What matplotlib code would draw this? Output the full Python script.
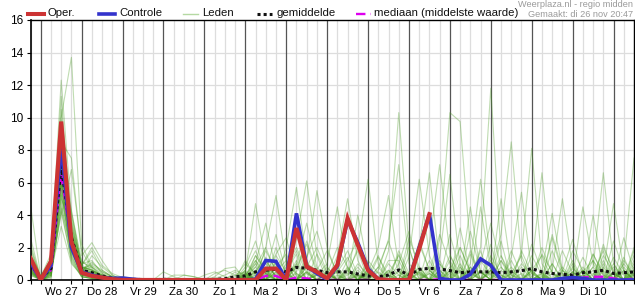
import numpy as np
import matplotlib
matplotlib.use("Agg")
import matplotlib.pyplot as plt
from matplotlib.lines import Line2D

plt.rcParams['font.family'] = ['Liberation Sans', 'DejaVu Sans']

# ---------------- data (6-hourly steps, starting di 26 nov 18:00) ----------------
day_labels = ["Wo 27", "Do 28", "Vr 29", "Za 30", "Zo 1", "Ma 2", "Di 3",
              "Wo 4", "Do 5", "Vr 6", "Za 7", "Zo 8", "Ma 9", "Di 10"]

oper = [1.35, 0.0, 1.15, 9.75, 2.35, 0.45, 0.25, 0.15, 0.05, 0, 0, 0, 0, 0, 0, 0, 0, 0, 0, 0, 0,
        0, 0, 0.7, 0.7, 0, 3.2, 0.82, 0.5, 0.1, 0.92, 3.8, 2.15, 0.6, 0.05, 0, 0, 0, 1.9, 4.05]

controle = [1.1, 0, 0.9, 8.3, 2.0, 0.5, 0.3, 0.15, 0.1, 0.12, 0.05, 0, 0, 0, 0, 0, 0, 0, 0, 0, 0,
            0, 0.05, 1.2, 1.15, 0, 4.1, 0.85, 0.4, 0.05, 0.85, 3.7, 2.3, 0.7, 0.05, 0,
            0, 0, 2.0, 4.05, 0.1, 0, 0, 0.35, 1.3, 0.9, 0, 0, 0, 0, 0,
            0, 0.1, 0.15, 0.1, 0, 0, 0, 0, 0]

gemiddelde = [1.0, 0.1, 0.7, 7.0, 2.6, 0.6, 0.45, 0.25, 0.12, 0.06, 0.04, 0.03, 0.02, 0.04, 0.03,
              0.03, 0.02, 0.03, 0.04, 0.08, 0.2,
              0.25, 0.5, 0.6, 0.65, 0.5, 0.78, 0.72, 0.6, 0.45, 0.5,
              0.5, 0.37, 0.25, 0.2, 0.3, 0.62, 0.3, 0.65, 0.72, 0.68,
              0.58, 0.45, 0.5, 0.5, 0.5, 0.45, 0.5, 0.57, 0.7, 0.5,
              0.4, 0.35, 0.3, 0.45, 0.5, 0.6, 0.4, 0.45, 0.5]

mediaan = [0.9, 0.05, 0.6, 6.6, 2.2, 0.45, 0.3, 0.15, 0.05, 0, 0, 0, 0, 0, 0, 0, 0, 0, 0, 0, 0,
           0, 0, 0.25, 0.25, 0, 0.15, 0.1, 0, 0, 0,
           0, 0, 0, 0, 0, 0, 0, 0, 0, 0.05,
           0, 0, 0, 0, 0, 0, 0, 0, 0, 0,
           0, 0, 0, 0.15, 0.2, 0.2, 0.1, 0, 0.1]

# ensemble members ("Leden"): first 21 steps (di 18:00 .. zo 18:00)
leden_early = [
    [4.6, 0.2, 1.3, 12.3, 4.2, 1.2, 0.6, 0.3, 0.1, 0, 0, 0, 0, 0, 0, 0, 0, 0, 0, 0.1, 0.3],
    [2.6, 0.1, 0.8, 11.3, 3.0, 0.8, 0.6, 0.3, 0.1, 0, 0, 0, 0, 0, 0, 0, 0, 0, 0, 0, 0],
    [1.0, 0.0, 0.5, 10.0, 13.7, 2.2, 0.8, 0.2, 0.0, 0, 0, 0, 0, 0, 0, 0, 0, 0, 0, 0, 0],
    [0.8, 0.0, 0.6, 8.5, 7.5, 1.5, 2.3, 1.2, 0.3, 0, 0, 0, 0, 0.5, 0.2, 0, 0, 0, 0, 0, 0],
    [1.2, 0.1, 1.0, 9.0, 2.5, 0.5, 0.3, 0.1, 0.0, 0.1, 0.1, 0.05, 0, 0, 0, 0, 0, 0, 0, 0, 0],
    [0.5, 0.0, 0.3, 6.0, 2.0, 0.4, 0.2, 0.0, 0.0, 0, 0, 0, 0, 0, 0, 0, 0, 0, 0, 0, 0],
    [1.5, 0.2, 1.6, 7.5, 3.2, 0.9, 1.8, 0.6, 0.2, 0, 0, 0, 0, 0, 0, 0, 0, 0.3, 0.5, 0.2, 0],
    [0.3, 0.0, 0.2, 4.5, 1.8, 0.3, 0.1, 0.0, 0.0, 0, 0, 0, 0, 0, 0, 0, 0, 0, 0, 0, 0],
    [0.9, 0.0, 0.7, 7.0, 2.8, 0.6, 0.5, 0.2, 0.1, 0, 0, 0, 0, 0, 0, 0, 0, 0, 0, 0, 0],
    [1.1, 0.1, 0.9, 6.5, 4.0, 1.0, 1.2, 0.4, 0.1, 0, 0, 0, 0, 0, 0, 0, 0, 0, 0.2, 0.7, 0.8],
    [0.6, 0.0, 0.4, 5.5, 1.5, 0.2, 0.1, 0.0, 0.0, 0, 0, 0, 0, 0, 0, 0, 0, 0, 0, 0, 0],
    [0.7, 0.0, 0.5, 3.3, 1.0, 0.3, 0.2, 0.1, 0.0, 0, 0, 0, 0, 0, 0, 0, 0, 0, 0, 0, 0],
    [2.0, 0.1, 1.2, 8.0, 2.2, 0.7, 0.9, 0.5, 0.2, 0.2, 0.1, 0, 0, 0, 0, 0, 0, 0, 0, 0, 0],
    [0.4, 0.0, 0.3, 5.0, 3.5, 0.6, 0.4, 0.1, 0.0, 0, 0, 0, 0, 0, 0, 0, 0, 0, 0, 0, 0],
    [1.3, 0.0, 0.8, 9.5, 2.6, 0.5, 0.3, 0.1, 0.0, 0, 0, 0, 0, 0, 0, 0, 0, 0, 0, 0, 0],
    [0.8, 0.0, 0.6, 4.0, 6.8, 1.8, 0.7, 0.2, 0.0, 0, 0, 0, 0, 0, 0, 0.3, 0.2, 0, 0, 0, 0],
    [1.0, 0.1, 0.5, 7.8, 2.0, 0.4, 1.5, 0.8, 0.3, 0, 0, 0, 0, 0, 0, 0, 0, 0, 0, 0, 0],
    [0.5, 0.0, 0.2, 6.2, 1.2, 0.2, 0.1, 0.0, 0.0, 0, 0, 0, 0, 0, 0, 0, 0, 0, 0, 0, 0],
    [1.6, 0.2, 1.1, 5.8, 2.4, 0.8, 0.6, 0.2, 0.1, 0, 0, 0, 0, 0, 0, 0, 0, 0, 0.1, 0.3, 0.6],
    [0.9, 0.0, 0.9, 8.8, 3.0, 0.6, 0.4, 0.1, 0.0, 0, 0, 0, 0, 0, 0, 0, 0, 0, 0, 0, 0],
    [0.3, 0.0, 0.1, 4.8, 1.4, 0.3, 0.2, 0.0, 0.0, 0, 0, 0, 0, 0, 0, 0, 0, 0, 0, 0, 0],
    [1.2, 0.1, 0.7, 6.8, 2.7, 0.9, 2.0, 0.9, 0.4, 0.15, 0.1, 0, 0, 0, 0, 0, 0, 0, 0, 0, 0],
    [0.6, 0.0, 0.4, 7.2, 4.3, 0.7, 0.3, 0.1, 0.0, 0, 0, 0, 0, 0, 0, 0, 0, 0, 0, 0, 0],
    [1.4, 0.0, 1.4, 9.8, 2.3, 0.5, 0.4, 0.2, 0.0, 0, 0, 0, 0, 0, 0, 0, 0, 0, 0, 0, 0],
    [0.7, 0.0, 0.3, 5.2, 1.7, 0.4, 0.3, 0.1, 0.0, 0, 0, 0, 0, 0, 0, 0, 0, 0, 0, 0, 0],
    [1.0, 0.1, 0.6, 6.0, 3.3, 1.1, 0.8, 0.3, 0.1, 0, 0, 0, 0, 0, 0, 0, 0, 0, 0.4, 0.6, 0.3],
    [0.4, 0.0, 0.5, 7.6, 2.1, 0.3, 0.2, 0.0, 0.0, 0, 0, 0, 0, 0, 0, 0, 0, 0, 0, 0, 0],
    [2.2, 0.1, 1.0, 8.2, 2.9, 0.6, 1.0, 0.6, 0.2, 0, 0, 0, 0, 0, 0.3, 0.3, 0.2, 0, 0, 0, 0.5],
    [0.8, 0.0, 0.6, 4.2, 1.3, 0.2, 0.1, 0.0, 0.0, 0, 0, 0, 0, 0, 0, 0, 0, 0, 0, 0, 0],
    [1.1, 0.0, 0.8, 6.6, 2.5, 0.5, 0.5, 0.2, 0.1, 0, 0, 0, 0, 0, 0, 0, 0, 0, 0, 0, 0],
    [0.6, 0.0, 0.4, 10.5, 3.8, 0.8, 0.6, 0.3, 0.1, 0, 0, 0, 0, 0, 0, 0, 0, 0, 0, 0, 0],
    [0.9, 0.1, 0.7, 5.6, 1.9, 0.4, 0.3, 0.1, 0.0, 0, 0, 0, 0, 0, 0, 0, 0, 0, 0, 0, 0],
    [0.7, 0.0, 0.5, 6.4, 2.2, 0.5, 0.4, 0.1, 0.0, 0, 0, 0, 0, 0, 0, 0, 0, 0, 0, 0, 0],
    [1.3, 0.1, 0.9, 8.6, 3.1, 0.7, 0.5, 0.2, 0.1, 0, 0, 0, 0, 0, 0, 0, 0, 0, 0, 0, 0],
    [0.5, 0.0, 0.3, 5.3, 1.6, 0.3, 0.2, 0.0, 0.0, 0, 0, 0, 0, 0, 0, 0, 0, 0, 0, 0, 0],
    [0.9, 0.0, 0.6, 7.3, 2.4, 0.6, 1.1, 0.5, 0.2, 0, 0, 0, 0, 0, 0, 0, 0, 0, 0, 0, 0.2],
    [1.8, 0.2, 1.3, 9.2, 3.6, 0.9, 0.6, 0.2, 0.0, 0, 0, 0, 0, 0, 0, 0, 0, 0, 0, 0, 0],
    [0.4, 0.0, 0.2, 4.4, 1.1, 0.2, 0.1, 0.0, 0.0, 0, 0, 0, 0, 0, 0, 0, 0, 0, 0, 0, 0],
    [1.1, 0.0, 0.8, 7.9, 2.7, 0.8, 0.5, 0.3, 0.1, 0, 0, 0, 0, 0, 0, 0, 0, 0, 0, 0, 0],
    [0.6, 0.0, 0.5, 6.1, 2.0, 0.4, 0.3, 0.1, 0.0, 0, 0, 0, 0, 0, 0, 0, 0, 0, 0, 0, 0],
    [1.0, 0.1, 0.7, 7.1, 2.5, 0.6, 0.8, 0.4, 0.1, 0, 0, 0, 0, 0, 0, 0, 0, 0, 0, 0, 0],
    [0.8, 0.0, 0.4, 5.9, 1.8, 0.4, 0.2, 0.1, 0.0, 0, 0, 0, 0, 0, 0, 0, 0, 0, 0, 0, 0],
    [1.2, 0.0, 0.9, 8.1, 2.9, 0.7, 0.4, 0.2, 0.0, 0, 0, 0, 0, 0, 0, 0, 0, 0, 0, 0, 0],
    [0.5, 0.0, 0.5, 6.7, 2.2, 0.5, 0.3, 0.1, 0.0, 0, 0, 0, 0, 0, 0, 0, 0, 0, 0, 0, 0],
]

# ensemble members: remaining 39 steps (ma 2 00:00 .. wo 11 12:00)
leden_late = [
    [0.5, 4.7, 1.0, 0.2, 0, 0, 0.8, 2.0, 0.5, 0, 0, 0, 0.3, 1.5, 0, 0, 0.4, 2.2, 0.6, 0, 0, 0, 0, 1.0, 3.5, 0.8, 0, 0, 0, 0.2, 0, 0, 0, 0.5, 1.2, 0, 0, 0, 0.3],
    [0, 0.8, 2.0, 5.2, 1.0, 0, 0, 0.3, 0, 0, 1.2, 2.5, 0.4, 0, 0, 0, 0, 0, 0.5, 2.8, 1.0, 0, 0, 0, 0.6, 0, 0, 1.8, 0.4, 0, 0, 0, 0.2, 0, 0, 1.5, 0.5, 0, 0],
    [0.2, 1.5, 0.5, 0, 2.0, 5.7, 1.2, 0, 0, 0, 0.5, 1.8, 0, 0, 0, 0.3, 0, 0, 0, 0, 1.5, 0.4, 0, 0, 2.2, 0, 0, 0, 0.6, 1.5, 0, 0, 0, 0, 0.8, 0, 0, 1.0, 0.2],
    [0, 0.4, 1.8, 0.6, 0.3, 2.5, 6.1, 1.5, 0, 0, 0, 0.2, 0, 0.8, 2.4, 0.5, 0, 0, 0, 1.2, 0, 0, 3.0, 0.5, 0, 0, 0, 0.4, 0, 0, 1.8, 0.3, 0, 0, 0, 0.2, 0, 0, 0.6],
    [0.8, 2.4, 0.3, 1.0, 0, 0, 1.2, 5.5, 2.0, 0.3, 0, 0, 0, 0, 0.4, 1.5, 0.2, 0, 0, 0, 0, 2.0, 0.5, 0, 0, 0, 1.2, 0, 0, 0, 0, 0.5, 2.5, 0.3, 0, 0, 0, 0.4, 0],
    [0, 0, 0.5, 2.8, 0.4, 0, 0, 0.3, 1.0, 4.5, 0.6, 0, 0, 0, 0, 0, 2.6, 0.8, 0, 0, 0.4, 0, 0, 1.8, 0, 0, 0, 0, 2.2, 0.5, 0, 0, 0, 0.3, 0, 0, 1.0, 0, 0],
    [0.3, 1.0, 0, 0, 0.6, 1.8, 0.4, 0, 0, 1.5, 5.0, 1.2, 0, 0, 0, 0, 0, 0.5, 0, 0, 0, 3.2, 0.4, 0, 0, 0, 0, 0.8, 0, 0, 0, 0, 0, 1.4, 0.2, 0, 0, 0, 2.0],
    [0, 0.6, 1.2, 0.2, 0, 0.5, 2.4, 0.6, 0, 0, 0.3, 2.0, 6.2, 1.0, 0, 0, 0, 0, 0.4, 0, 0, 0, 0.6, 0, 1.5, 0.3, 0, 0, 0, 0, 2.8, 0.6, 0, 0, 0, 0, 0.4, 0, 0],
    [1.2, 0.3, 0, 0.8, 1.6, 0.2, 0, 0, 0.4, 0, 0, 0, 0.5, 2.0, 5.2, 0.8, 0, 0, 0, 0.6, 0, 0, 0, 0, 0, 1.2, 0.3, 0, 0, 0, 0, 0, 0.5, 0, 0, 0, 2.4, 0.6, 0],
    [0, 0.2, 0.6, 0, 0, 0, 0.4, 0, 0, 0, 0, 0.3, 0, 0, 1.8, 10.3, 2.0, 0, 0, 0, 0, 0, 0.8, 0, 0, 0, 0, 0, 1.5, 0.3, 0, 0, 0, 0, 0, 0.6, 0, 0, 0],
    [0.4, 0, 0, 1.5, 0.5, 0, 0, 0, 0, 0.2, 0, 0, 0, 0.6, 2.5, 7.1, 1.0, 0.3, 0, 0, 0, 0.5, 0, 0, 0, 2.4, 0, 0, 0, 0, 0, 0.6, 0, 0, 0, 0, 0, 1.2, 0.3],
    [0, 0, 0.3, 0, 0, 1.0, 3.5, 0.8, 0, 0, 0, 0, 0, 0.2, 0, 0, 1.4, 6.2, 1.5, 0, 0, 0, 0, 0, 0, 0, 0, 1.0, 0.2, 0, 0, 0, 0, 0, 0, 0.8, 0, 0, 0.4],
    [0.6, 1.8, 0.4, 0, 0, 0, 0, 0.5, 0, 0, 0, 0.8, 0, 0, 0, 0, 0, 2.0, 6.6, 1.0, 0, 0, 0, 0, 0, 0.3, 0, 0, 0, 1.6, 0.5, 0, 0, 0, 0, 0, 0, 0.5, 0],
    [0, 0, 0, 0.5, 1.2, 0.4, 0, 0, 0, 0, 0.7, 0.2, 0, 0, 0, 0, 0, 0, 2.2, 7.1, 1.6, 0, 0, 0, 0, 0, 0, 0, 0, 0.4, 0, 0, 1.2, 0, 0, 0, 0, 0, 1.5],
    [0.2, 0, 0.8, 0.3, 0, 0, 0, 1.6, 0.4, 0, 0, 0, 0, 0, 0, 0.5, 0, 0, 0, 2.5, 10.3, 9.75, 2.0, 0, 0, 0, 0, 0, 0, 0, 0, 0, 0, 0.8, 0, 0, 0, 0, 0],
    [0, 1.2, 0.4, 0, 0, 0, 0, 0, 0, 0.6, 1.8, 0.3, 0, 0, 0, 0, 0, 0, 0, 1.4, 6.5, 0.8, 0, 0, 0, 0, 0, 0, 0.5, 0, 0, 0, 0, 0, 0, 2.2, 0.4, 0, 0],
    [0.5, 0, 0, 2.0, 0.3, 0, 0, 0, 0, 0, 0, 0, 1.2, 0.4, 0, 0, 0, 0, 0, 0, 0, 0, 1.0, 6.2, 1.2, 0, 0, 0, 0, 0.3, 0, 0, 0, 0.6, 0, 0, 0, 0, 0],
    [0, 0.5, 0, 0, 0, 0.8, 0, 0, 0, 0, 0, 0, 0, 0, 0.5, 0, 0, 0.6, 0, 0, 0, 1.5, 0, 4.5, 0.6, 0, 0, 0, 0, 0, 1.0, 0, 0, 0, 0.3, 1.8, 0, 0, 0],
    [0.3, 1.2, 0, 0.5, 0, 0, 1.0, 0.6, 0, 0, 0.8, 0, 0, 1.4, 0.3, 0, 0.3, 0, 0, 1.0, 0.2, 0, 0, 2.0, 11.8, 1.5, 0, 0, 0.6, 0, 0, 1.8, 0.4, 0, 0, 0, 0, 0.6, 0],
    [0, 0, 0.8, 0, 0.5, 1.6, 0, 0, 0.4, 0, 0, 0.4, 0, 0, 1.2, 1.2, 0, 0, 0.6, 0, 0, 1.0, 0, 0, 0.5, 2.8, 8.5, 1.2, 0, 0, 0, 0.4, 0, 0, 1.6, 0.3, 0, 0, 0.8],
    [0.4, 0, 1.4, 0, 0, 0, 0.5, 0, 0, 0.8, 0, 0, 0.4, 0, 0, 1.6, 0, 0, 0, 0.6, 0, 0, 0.8, 0, 0, 0, 1.4, 5.4, 0.5, 0, 0, 0, 0, 0, 1.2, 0.3, 0, 1.4, 0],
    [0, 0.3, 0, 1.2, 0, 0, 0.8, 0, 0, 0, 0, 0, 0.6, 0, 0, 0, 2.0, 0, 0, 0, 0.6, 0, 0, 0, 0.4, 0, 0, 1.6, 8.1, 1.0, 0, 0, 0.7, 0, 0, 0, 0.5, 0, 0.6],
    [0, 0, 0, 0.4, 0, 1.0, 0, 0, 0.8, 0, 0, 0, 0, 0, 0.3, 0, 0, 0.8, 0, 0, 1.2, 0, 0, 0.5, 0, 0, 0, 0, 0.8, 6.6, 0.5, 0, 0, 0, 0, 1.0, 0, 0, 1.2],
    [0.2, 0, 0, 0, 1.0, 0, 0.5, 0, 0, 0, 0.6, 0, 0, 0, 0, 0, 0, 0, 0.4, 0, 0, 0, 1.8, 0, 0, 0, 0.6, 0, 0, 0.5, 4.1, 0.6, 0, 0, 0.4, 0, 0, 0.8, 0],
    [0, 0, 0.2, 0, 0, 0, 0, 0.4, 0, 0, 0, 0, 0, 0.5, 0, 0, 0, 0, 0, 0, 0, 0.6, 0, 0, 0, 1.2, 0, 0, 0, 0, 0, 0, 0.5, 0, 0.8, 6.6, 1.0, 0, 0],
    [0, 0.6, 0, 0, 0, 0, 0, 0, 0.3, 0, 0, 0, 1.0, 0, 0, 0, 0, 0.4, 0, 0, 0, 0, 0, 0, 0.8, 0, 0.4, 0, 0, 0, 0, 0, 1.0, 0, 0, 0.5, 4.7, 0.6, 0],
    [0, 0, 0, 0, 0.4, 0, 0, 0, 0, 0, 0, 0, 0, 0, 0.6, 0, 0, 0, 0, 0, 0.5, 0, 0, 0, 0, 0, 0, 0, 0, 0.4, 0, 0, 0, 0.3, 0, 0, 0, 1.0, 7.5],
    [0, 0, 0.4, 0, 0, 0, 0, 0, 0.6, 0, 0, 0, 0, 0, 0, 0, 0, 0, 0, 0.3, 0, 0, 0, 0, 0, 0.8, 0, 0, 0, 0, 0.6, 5.0, 0.8, 0, 0, 0, 0, 0, 0.4],
    [0.3, 0, 0, 0, 0, 0, 0, 0, 0, 0, 0, 0.3, 0, 0, 0, 0, 0, 0, 0, 0, 0, 0, 0, 0, 0.6, 0, 0, 0, 0, 0, 0, 0, 0, 4.5, 1.0, 0, 0, 0, 0],
    [0, 0, 0, 0, 0, 0.4, 0, 0, 0, 0, 0, 0, 0, 0, 0, 0.6, 0, 0, 0, 0, 0, 0, 0, 0, 0, 0, 0, 0, 0, 0.2, 0, 0, 0, 0, 4.0, 0.5, 0, 0, 0],
    [0, 1.0, 3.5, 0.6, 0, 0, 0, 0, 0, 0, 0, 0, 0, 0, 0, 0, 0, 0, 0, 0, 0, 0, 0, 0, 0, 5.0, 0.6, 0, 0, 0, 0, 0, 0, 0, 0, 0, 0, 0, 0],
    [0, 0, 0, 0, 0, 0, 0, 0, 0.5, 0, 0, 4.0, 0.8, 0, 0, 0, 0, 0, 0, 0, 0, 0, 4.5, 0.5, 0, 0, 0, 0, 0, 0, 0, 0, 0, 0, 0, 0, 0, 0, 0],
    [0, 1.5, 0.6, 0, 0, 0.8, 2.2, 0.4, 0, 0, 0, 1.0, 0.3, 0, 0, 1.8, 0.4, 0, 0, 0, 0.6, 2.0, 0.5, 0, 0, 0, 0.4, 1.5, 0, 0, 0, 0, 0.8, 0, 0, 1.2, 0, 0, 0.5],
    [0.6, 0, 2.0, 0.5, 0, 0, 0, 0.6, 1.8, 0.4, 0, 0, 0, 0.8, 0, 0, 0, 2.4, 0.6, 0, 0, 0, 0, 1.2, 0.3, 0, 0, 0, 0, 2.0, 0.4, 0, 0, 0.6, 0, 0, 1.4, 0.3, 0],
    [0, 0, 0.4, 1.6, 2.6, 0.3, 0, 0, 0, 0.5, 1.4, 0, 0, 0, 0.6, 0, 0, 0, 1.2, 0, 0, 0, 0, 0.5, 0, 1.5, 0.3, 0, 0, 0, 0, 0.8, 0, 0, 1.6, 0.4, 0, 0, 1.0],
    [1.0, 0.4, 0, 0, 0, 0, 1.4, 3.0, 0.8, 0, 0, 0, 0.7, 0, 0, 0, 0.5, 0, 0, 0, 2.8, 0.5, 0, 0, 0.6, 0, 0, 0, 0.6, 0, 0, 0, 0, 0, 0.6, 0, 0, 2.6, 0.5],
    [0, 0.3, 0, 0, 0.8, 2.0, 0.6, 0, 0, 0, 0, 0, 0.5, 0, 0, 1.0, 3.0, 0.4, 0, 0, 0, 0, 0, 0, 0, 0, 0.8, 0, 0, 0, 0.4, 0, 1.8, 0.6, 0, 0, 0, 0, 0.3],
    [0.2, 0.8, 0, 0, 0, 0, 0, 0, 0.4, 2.0, 0.8, 0, 0, 0, 0, 0, 0, 0, 0, 0.4, 0, 0, 1.6, 0, 0, 0, 0, 0, 0, 0, 2.6, 0.4, 0, 0, 0, 0, 0.8, 0, 0],
    [0, 0, 1.2, 0.2, 0, 0, 0.5, 0, 0, 0, 0, 0, 0, 0, 1.0, 0.3, 0, 0, 0, 0, 0, 0, 0, 0.6, 0, 0, 1.8, 0.3, 0, 0, 0, 0, 0, 0.6, 0, 0, 0, 0, 1.8],
    [0.4, 0, 0, 0, 0, 1.2, 0, 0, 0, 0.6, 0, 0, 0.4, 0, 0, 0, 0, 0, 0, 0, 0.8, 0, 0, 0, 1.2, 0, 0, 0, 0, 0, 0, 0, 0.5, 0, 0, 2.0, 0.6, 0, 0],
    [0, 0, 0, 0.8, 0, 0, 0, 0.3, 0, 0, 0, 0.6, 0, 0, 0, 0, 0, 0, 0.8, 0, 0, 0, 0, 0, 0, 0.6, 0, 0, 0, 0, 1.0, 0, 0, 0, 0, 0, 0, 0.6, 0],
    [0, 0.5, 0, 0, 0, 0, 0, 0, 0, 0, 0.4, 0, 0, 0, 0, 0, 0, 0.5, 0, 0, 0, 0.8, 0, 0, 0, 0, 0, 0, 0.4, 0, 0, 0, 0, 0, 0, 0, 0.4, 0, 0],
    [0.3, 0, 0, 0, 0, 0, 0, 0, 0, 0.3, 0, 0, 0, 0, 0, 0, 0.4, 0, 0, 0, 0, 0, 0, 0, 0, 0, 0, 0, 0, 0, 0, 0.3, 0, 0, 0, 0, 0, 0, 0],
    [0, 0, 0, 0, 0, 0, 0, 0, 0, 0, 0, 0, 0, 0, 0, 0, 0, 0, 0, 0, 0, 0, 0, 0, 0, 0, 0, 0, 0, 0, 0, 0, 0, 0, 0, 0, 0, 0, 0],
]

N = 60
N_EARLY = 21
STEP_H = 6


def fit(seq, n):
    seq = list(seq)[:n]
    return seq + [0.0] * (n - len(seq))


hours = np.arange(N) * STEP_H
members = [fit(e, N_EARLY) + fit(l, N - N_EARLY) for e, l in zip(leden_early, leden_late)]

# ---------------- figure ----------------
W, H = 635, 300
fig = plt.figure(figsize=(W / 100, H / 100), dpi=100)
ax = fig.add_axes([30.5 / W, 20 / H, 603.5 / W, 260 / H])

xmax = hours[-1]
ax.set_xlim(0, xmax)
ax.set_ylim(0, 16)

# grid
for h in hours:
    if (h - 6) % 24 == 0:
        ax.axvline(h, color='#555555', lw=0.9, zorder=0.5)
    else:
        ax.axvline(h, color='#dddddd', lw=0.9, zorder=0.4)
for yv in range(2, 16, 2):
    ax.axhline(yv, color='#dddddd', lw=0.9, zorder=0.4)

# members
for m in members:
    ax.plot(hours, m, color='#459a1c', alpha=0.34, lw=0.8, zorder=1)

ax.plot(hours, fit(mediaan, N), color='#dd00ee', lw=1.7, ls=(0, (4, 2.2)), zorder=2)
ax.plot(hours, fit(gemiddelde, N), color='#111111', lw=2.2, ls=(0, (1, 1)), zorder=3)
ax.plot(hours, fit(controle, N), color='#3333cc', lw=2.6, zorder=4, solid_joinstyle='miter')
ax.plot(hours[:len(oper)], oper, color='#cc3333', lw=3.0, zorder=5, solid_joinstyle='miter')

# ticks
ax.set_yticks(range(0, 17, 2))
ax.set_yticklabels([str(v) for v in range(0, 17, 2)], fontsize=8.5)
ax.set_xticks(hours, minor=True)
label_pos = [18 + 24 * k for k in range(len(day_labels))]
ax.set_xticks(label_pos)
ax.set_xticklabels(day_labels, fontsize=8.2)
ax.tick_params(axis='x', which='major', length=0, pad=5)
ax.tick_params(axis='x', which='minor', length=3, width=0.8, direction='out')
ax.tick_params(axis='y', length=3, width=0.8, pad=2)
for s in ax.spines.values():
    s.set_color('black')
    s.set_linewidth(1.0)
ax.spines['left'].set_linewidth(1.2)
ax.spines['bottom'].set_linewidth(1.2)

# legend (placed manually above the axes)
def fx(px):
    return px / W


def fy(py):
    return 1 - py / H


legend_items = [
    (28, 44, 47.5, "Oper.", dict(color='#cc3333', lw=2.9)),
    (99, 115, 119, "Controle", dict(color='#3333cc', lw=2.6)),
    (183, 198, 202, "Leden", dict(color='#b5d9a3', lw=1.0)),
    (257, 272, 276.5, "gemiddelde", dict(color='#111111', lw=2.2, ls=(0, (1, 1)))),
    (355.5, 371, 374.5, "mediaan (middelste waarde)", dict(color='#dd00ee', lw=1.7, ls=(0, (4, 2.2)))),
]
for x0, x1, xt, lab, st in legend_items:
    fig.add_artist(Line2D([fx(x0), fx(x1)], [fy(13.5), fy(13.5)], transform=fig.transFigure, **st))
    fig.text(fx(xt), fy(13.5), lab, fontsize=8.2, ha='left', va='center', color='#111111')

fig.text(fx(633), fy(4.5), "Weerplaza.nl - regio midden", fontsize=6.6, ha='right', va='center', color='#9a9a9a')
fig.text(fx(633), fy(14.5), "Gemaakt: di 26 nov 20:47", fontsize=6.6, ha='right', va='center', color='#9a9a9a')

fig.savefig("out.png", dpi=100)
